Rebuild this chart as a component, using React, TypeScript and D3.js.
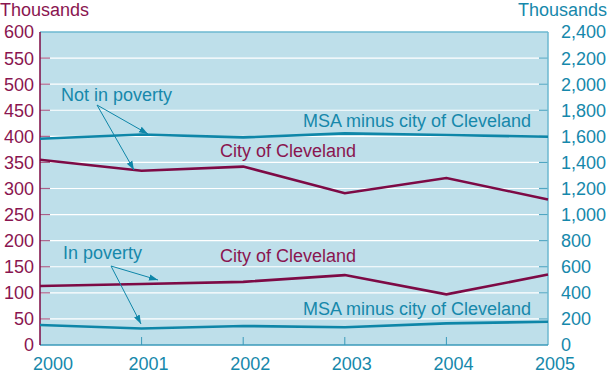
import React from "react";
import * as d3 from "d3";

const years = [2000, 2001, 2002, 2003, 2004, 2005];
// City of Cleveland (left axis, thousands)
const cityNotPoverty = [355, 334, 342, 291, 320, 279];
const cityPoverty = [113, 117, 121, 134, 97, 135];
// MSA minus city of Cleveland (right axis, thousands)
const msaNotPoverty = [1582, 1614, 1592, 1623, 1610, 1597];
const msaPoverty = [153, 126, 146, 136, 166, 178];

const leftTicks = d3.range(0, 601, 50);
const rightTicks = d3.range(0, 2401, 200);

const MAROON = "#7d0a45";
const MAROON_TXT = "#8a1550";
const TEAL = "#0e86a8";
const TEAL_TXT = "#1688ab";
const BG = "#bedfea";
const FONT = "'Liberation Sans', Arial, Helvetica, sans-serif";

export default function App() {
  const W = 607, H = 377;
  const L = 40, R = 548, T = 32, B = 345;
  const x = d3.scaleLinear().domain([2000, 2005]).range([L, R]);
  const yL = d3.scaleLinear().domain([0, 600]).range([B, T]);
  const yR = d3.scaleLinear().domain([0, 2400]).range([B, T]);
  const lineL = d3.line<number>().x((_, i) => x(years[i])).y((d) => yL(d));
  const lineR = d3.line<number>().x((_, i) => x(years[i])).y((d) => yR(d));
  const fmt = d3.format(",");

  return (
    <svg width={W} height={H} style={{ position: "absolute", left: 0, top: 0, fontFamily: FONT }}>
      <defs>
        <marker id="arr" viewBox="0 0 10 10" refX="10" refY="5" markerWidth="9" markerHeight="9" orient="auto" markerUnits="userSpaceOnUse">
          <path d="M0,1.5 L10,5 L0,8.5 Z" fill={TEAL} />
        </marker>
      </defs>
      <rect x={L} y={T} width={R - L} height={B - T} fill={BG} />
      {leftTicks.filter((t) => t > 0 && t < 600).map((t) => (
        <line key={"g" + t} x1={L} x2={R} y1={yL(t)} y2={yL(t)} stroke="#ffffff" strokeWidth={1.2} />
      ))}
      {/* left ticks */}
      {leftTicks.filter((t) => t > 0 && t < 600).map((t) => (
        <line key={"lt" + t} x1={L} x2={L + 10} y1={yL(t)} y2={yL(t)} stroke="#a86088" strokeWidth={1.2} />
      ))}
      {/* right ticks */}
      {rightTicks.filter((t) => t > 0 && t < 2400).map((t) => (
        <line key={"rt" + t} x1={R - 9} x2={R} y1={yR(t)} y2={yR(t)} stroke="#4fa6c2" strokeWidth={1.2} />
      ))}
      {/* bottom ticks */}
      {years.slice(1, -1).map((yr) => (
        <line key={"bt" + yr} x1={x(yr)} x2={x(yr)} y1={B} y2={B - 8} stroke="#3a9aba" strokeWidth={1} />
      ))}
      {/* borders */}
      <line x1={L} x2={R} y1={T} y2={T} stroke="#6cb8d0" strokeWidth={1.5} />
      <line x1={R} x2={R} y1={T} y2={B} stroke="#6cb8d0" strokeWidth={1.5} />
      <line x1={L} x2={R} y1={B} y2={B} stroke="#3a9aba" strokeWidth={1.5} />
      <line x1={L} x2={L} y1={T} y2={B} stroke={MAROON} strokeWidth={1.5} />

      {/* lines */}
      <path d={lineR(msaNotPoverty) || ""} fill="none" stroke={TEAL} strokeWidth={2.6} />
      <path d={lineR(msaPoverty) || ""} fill="none" stroke={TEAL} strokeWidth={2.6} />
      <path d={lineL(cityNotPoverty) || ""} fill="none" stroke={MAROON} strokeWidth={2.6} />
      <path d={lineL(cityPoverty) || ""} fill="none" stroke={MAROON} strokeWidth={2.6} />

      {/* left axis labels */}
      {leftTicks.map((t) => (
        <text key={"ll" + t} x={34} y={yL(t)} dy="0.36em" textAnchor="end" fontSize={18} fill={MAROON_TXT}>{t}</text>
      ))}
      {rightTicks.map((t) => (
        <text key={"rl" + t} x={561} y={yR(t)} dy="0.36em" textAnchor="start" fontSize={18} fill={TEAL_TXT}>{fmt(t)}</text>
      ))}
      {years.map((yr, i) => (
        <text key={"xl" + yr} x={i === 0 ? 33 : x(yr) + 7} y={370} textAnchor={i === 0 ? "start" : "middle"} fontSize={18} fill={TEAL_TXT}>{yr}</text>
      ))}
      <text x={0} y={16} fontSize={18} fill={MAROON_TXT}>Thousands</text>
      <text x={607} y={16} fontSize={18} textAnchor="end" fill={TEAL_TXT}>Thousands</text>

      {/* annotations */}
      <text x={61} y={101} fontSize={18} fill={TEAL_TXT}>Not in poverty</text>
      <line x1={97} y1={105} x2={148} y2={134} stroke={TEAL} strokeWidth={1} markerEnd="url(#arr)" />
      <line x1={97} y1={105} x2={134} y2={170} stroke={TEAL} strokeWidth={1} markerEnd="url(#arr)" />
      <text x={63} y={259} fontSize={18} fill={TEAL_TXT}>In poverty</text>
      <line x1={111} y1={266} x2={158} y2={280} stroke={TEAL} strokeWidth={1} markerEnd="url(#arr)" />
      <line x1={111} y1={266} x2={141} y2={324} stroke={TEAL} strokeWidth={1} markerEnd="url(#arr)" />
      <text x={303} y={127} fontSize={18} fill={TEAL_TXT}>MSA minus city of Cleveland</text>
      <text x={220} y={157} fontSize={18} fill={MAROON_TXT}>City of Cleveland</text>
      <text x={220} y={262} fontSize={18} fill={MAROON_TXT}>City of Cleveland</text>
      <text x={303} y={315} fontSize={18} fill={TEAL_TXT}>MSA minus city of Cleveland</text>
    </svg>
  );
}
